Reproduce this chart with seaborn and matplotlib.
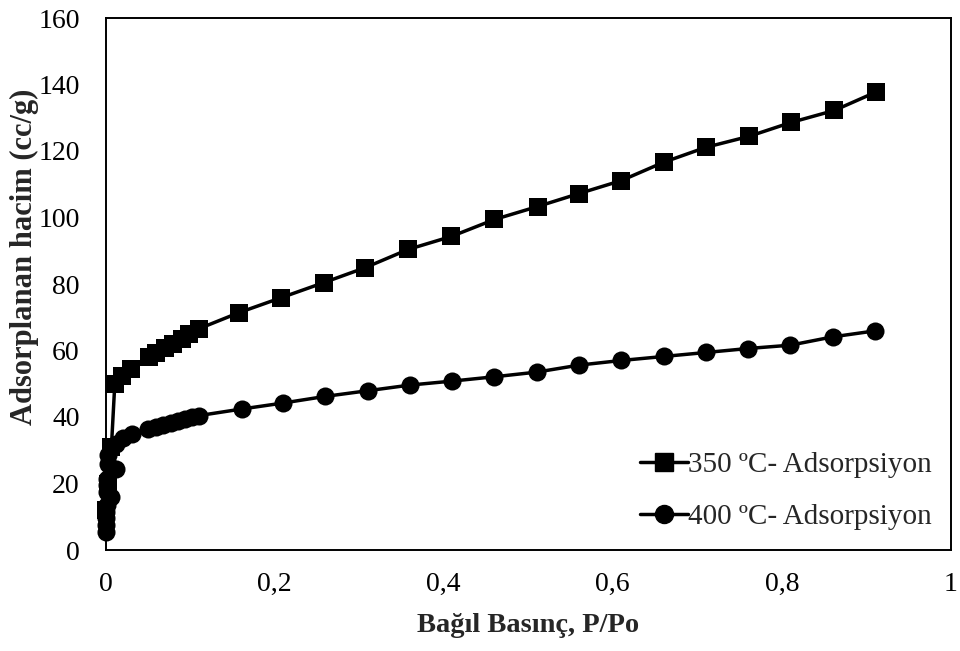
import matplotlib
matplotlib.use("Agg")
import matplotlib.pyplot as plt
from matplotlib.ticker import MultipleLocator, FuncFormatter
import seaborn as sns
import pandas as pd

# Adsorption isotherm at 350 °C
p_350 = [0.001, 0.003, 0.007, 0.011, 0.019, 0.030, 0.051, 0.060, 0.070, 0.080,
         0.090, 0.099, 0.111, 0.158, 0.208, 0.258, 0.307, 0.358, 0.409, 0.460,
         0.511, 0.560, 0.610, 0.660, 0.710, 0.761, 0.811, 0.862, 0.911]
v_350 = [12.0, 20.0, 31.0, 50.0, 52.4, 54.5, 58.0, 59.3, 60.8, 62.0,
         63.5, 65.0, 66.6, 71.4, 75.9, 80.4, 84.9, 90.4, 94.3, 99.4,
         103.3, 107.2, 111.1, 116.6, 121.1, 124.4, 128.6, 132.2, 137.7]

# Adsorption isotherm at 400 °C
p_400 = [0.0005, 0.0007, 0.0009, 0.0011, 0.0013, 0.007, 0.0016, 0.0019, 0.0022,
         0.013, 0.0026, 0.0035, 0.007, 0.013, 0.021, 0.031, 0.050, 0.060,
         0.068, 0.078, 0.086, 0.094, 0.102, 0.110, 0.161, 0.210, 0.260,
         0.310, 0.360, 0.410, 0.460, 0.510, 0.560, 0.610, 0.660, 0.710,
         0.760, 0.810, 0.860, 0.910]
v_400 = [5.5, 7.5, 9.5, 11.5, 13.5, 15.8, 17.5, 19.5, 21.5,
         24.4, 26.0, 28.5, 30.8, 31.8, 33.6, 34.8, 36.3, 37.0,
         37.6, 38.3, 38.9, 39.4, 39.9, 40.4, 42.4, 44.2, 46.2,
         47.9, 49.6, 50.8, 52.1, 53.5, 55.6, 57.0, 58.2, 59.4,
         60.6, 61.6, 64.1, 65.9]

series_labels = ["350 ºC- Adsorpsiyon", "400 ºC- Adsorpsiyon"]
x_ticks = [0, 0.2, 0.4, 0.6, 0.8, 1.0]
y_ticks = [0, 20, 40, 60, 80, 100, 120, 140, 160]

df = pd.concat([
    pd.DataFrame({"p": p_350, "v": v_350, "seri": series_labels[0]}),
    pd.DataFrame({"p": p_400, "v": v_400, "seri": series_labels[1]}),
], ignore_index=True)

sns.set_style("white")
plt.rcParams["font.family"] = ["Liberation Serif", "DejaVu Serif"]

W, H = 960, 651
fig = plt.figure(figsize=(W / 100, H / 100), dpi=100)
ax = fig.add_axes([105.5 / W, 1 - 550 / H, (951 - 105.5) / W, (550 - 18) / H])

LW = 2.5
MS = {series_labels[0]: 12.5, series_labels[1]: 13.0}

sns.lineplot(data=df, x="p", y="v", hue="seri", style="seri",
             markers={series_labels[0]: "s", series_labels[1]: "o"},
             dashes=False, sort=False, estimator=None,
             palette={series_labels[0]: "black", series_labels[1]: "black"},
             linewidth=LW, markeredgewidth=0, ax=ax, legend=False)

for line, lab in zip(ax.lines, series_labels):
    line.set_markersize(MS[lab])
    line.set_markeredgecolor("black")
    line.set_markerfacecolor("black")
    line.set_clip_on(False)

ax.set_xlim(0, 1)
ax.set_ylim(0, 160)
ax.set_xticks(x_ticks)
ax.set_yticks(y_ticks)
ax.xaxis.set_minor_locator(MultipleLocator(0.04))
ax.yaxis.set_minor_locator(MultipleLocator(4))
ax.xaxis.set_major_formatter(FuncFormatter(
    lambda v, _: ("%g" % round(v, 2)).replace(".", ",")))

ax.tick_params(axis="both", which="both", direction="in", top=False, right=False,
               labelsize=20, colors="black", width=1.0)
ax.tick_params(axis="y", which="both", length=5, pad=18.5)
ax.tick_params(axis="x", which="both", length=4, pad=16)

for s in ax.spines.values():
    s.set_color("black")
    s.set_linewidth(1.4)

ax.set_xlabel("")
ax.set_ylabel("")
fig.text(528.5 / W, 1 - 626 / H, "Bağıl Basınç, P/Po", fontsize=20.5,
         fontweight="bold", ha="center", va="center")
fig.text(24 / W, 1 - 257 / H, "Adsorplanan hacim (cc/g)", fontsize=22,
         fontweight="bold", ha="center", va="center", rotation=90)

handles = [
    plt.Line2D([], [], color="black", lw=LW, marker="s", markersize=MS[series_labels[0]]),
    plt.Line2D([], [], color="black", lw=LW, marker="o", markersize=MS[series_labels[1]]),
]
ax.legend(handles, series_labels, loc="upper left",
          bbox_to_anchor=(640 / W, 1 - 452 / H), bbox_transform=fig.transFigure,
          frameon=False, fontsize=21, handlelength=1.65, handletextpad=0.0,
          labelspacing=0.88, borderpad=0, borderaxespad=0)

fig.savefig("out.png", dpi=100)
